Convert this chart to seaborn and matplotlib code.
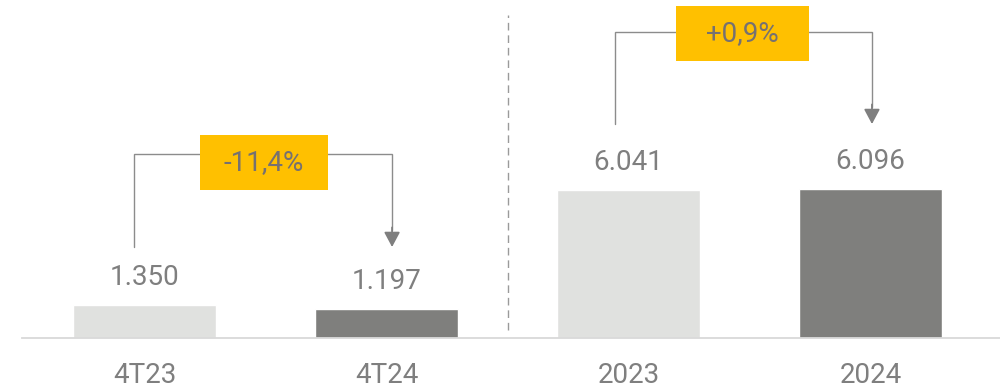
import matplotlib
matplotlib.use("Agg")
import matplotlib.pyplot as plt
from matplotlib.patches import Rectangle
import seaborn as sns
import pandas as pd

# Revenue-style comparison: quarter and full year
categories = ["4T23", "4T24", "2023", "2024"]
values = [1350, 1197, 6041, 6096]
value_labels = ["1.350", "1.197", "6.041", "6.096"]
change_labels = ["-11,4%", "+0,9%"]

LIGHT = "#E0E1DF"
DARK = "#7F7F7D"
GOLD = "#FFC000"
TEXT = "#7F7F7F"
LINE = "#8C8C8C"

sns.set_theme(style="white")
plt.rcParams["font.family"] = ["Roboto", "DejaVu Sans"]

df = pd.DataFrame({"periodo": categories, "valor": values})

fig = plt.figure(figsize=(10, 3.89), dpi=100)
ax = fig.add_axes([0, 51 / 389, 1, 338 / 389])

sns.barplot(data=df, x="periodo", y="valor", hue="periodo",
            palette=[LIGHT, DARK, LIGHT, DARK], width=0.59,
            legend=False, ax=ax, saturation=1)

ax.set_xlim(-0.597, 3.535)
ax.set_ylim(0, 13800)
ax.set_xlabel("")
ax.set_ylabel("")
ax.set_yticks([])
for s in ["top", "right", "left"]:
    ax.spines[s].set_visible(False)
ax.spines["bottom"].set_color("#D9D9D9")
ax.spines["bottom"].set_linewidth(1.3)
ax.spines["bottom"].set_bounds(-0.505, 3.535)
ax.tick_params(axis="x", length=0, pad=17, labelsize=20, labelcolor=TEXT)

# value labels above bars
for i, (v, lab) in enumerate(zip(values, value_labels)):
    ax.annotate(lab, (i, v), xytext=(0, 19.5), textcoords="offset points",
                ha="center", va="center", fontsize=20, color=TEXT)

# separator between quarter and year
ax.plot([1.5, 1.5], [327, 13184], color="#9A9A9A", lw=1,
        linestyle=(0, (5.5, 3.5)), zorder=1)

# change brackets: (left bar, right bar, base, top, box x-center, box width, box y-center)
brackets = [
    (0, 1, 3714, 7510, 0.494, 0.53, 7163, -0.043, 0.023),
    (2, 3, 8735, 12490, 2.471, 0.55, 12429, -0.056, 0.006),
]
box_h = 2245
for (l, r, base, top, bx, bw, by, dl, dr), lab in zip(brackets, change_labels):
    xl, xr = l + dl, r + dr
    ax.plot([xl, xl, xr, xr], [base, top, top, base + 700],
            color=LINE, lw=1, zorder=2, solid_joinstyle="miter")
    ax.annotate("", xy=(xr, base), xytext=(xr, base + 800),
                arrowprops=dict(arrowstyle="-|>,head_length=0.75,head_width=0.4",
                                color="#7F7F7F", lw=1.3, shrinkA=0, shrinkB=0),
                zorder=3)
    ax.add_patch(Rectangle((bx - bw / 2, by - box_h / 2), bw, box_h,
                           facecolor=GOLD, edgecolor="none", zorder=4))
    ax.text(bx, by, lab, ha="center", va="center", fontsize=20,
            color="#767171", zorder=5)

fig.savefig("out.png", dpi=100)
